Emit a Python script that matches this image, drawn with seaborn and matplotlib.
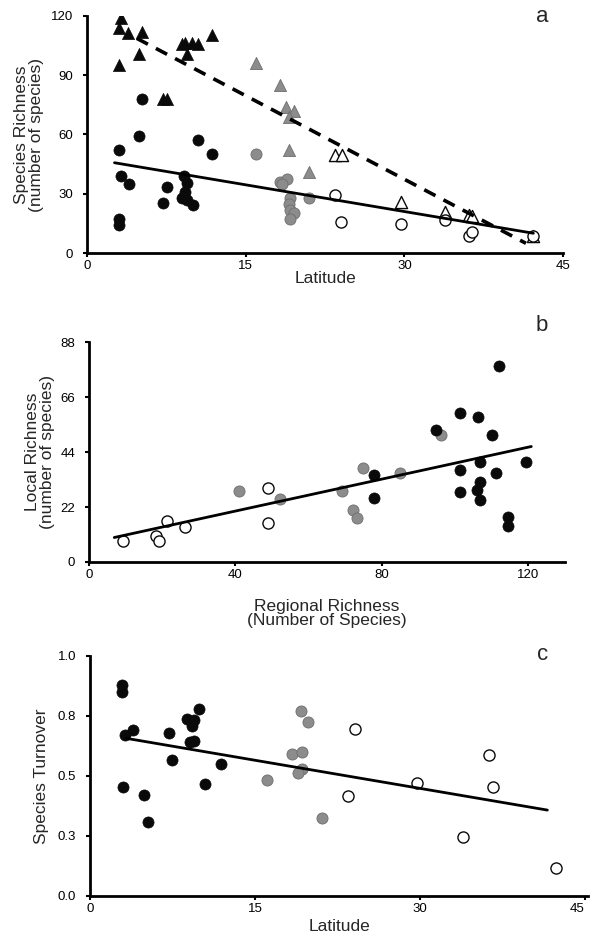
import numpy as np
import pandas as pd
import matplotlib
matplotlib.use("Agg")
import matplotlib.pyplot as plt
import seaborn as sns

sns.set_style("ticks")
plt.rcParams['font.family'] = ['Liberation Sans', 'DejaVu Sans']

# ---------------- Panel a data ----------------
a_tri_black_x = [3.2, 3.0, 3.9, 5.2, 4.9, 3.0, 7.2, 7.6, 9.0, 9.3, 9.9, 10.5, 9.5, 11.8]
a_tri_black_y = [119, 114, 111.5, 112, 101, 95, 78, 78, 106, 106.5, 106.5, 106, 101, 110.5]
a_tri_gray_x = [16.0, 18.2, 18.8, 19.6, 19.1, 19.1, 21.0]
a_tri_gray_y = [96, 85, 74, 72, 69, 52, 41]
a_tri_open_x = [23.4, 24.1, 29.7, 33.8, 36.1, 36.4, 42.2]
a_tri_open_y = [49.5, 49.5, 26, 21, 19, 18.5, 8.5]
a_cir_black_x = [5.2, 4.9, 3.0, 10.5, 11.8, 3.2, 4.0, 7.6, 7.2, 9.2, 9.5, 9.3, 9.0, 9.5, 10.0, 3.0, 3.0]
a_cir_black_y = [78, 59, 52, 57, 50, 39, 35, 33.5, 25.5, 39, 35.5, 31, 28, 27, 24.5, 17, 14]
a_cir_gray_x = [16.0, 18.2, 18.9, 18.4, 19.2, 19.1, 19.2, 19.6, 19.2, 21.0]
a_cir_gray_y = [50, 36, 37.5, 35, 28, 25, 22, 20, 17, 28]
a_cir_open_x = [23.4, 24.0, 29.7, 33.8, 36.1, 36.4, 42.2]
a_cir_open_y = [29.5, 15.5, 14.5, 16.5, 8.5, 10.5, 8.5]
a_fit_solid_x = [2.6, 42.2]
a_fit_solid_y = [45.7, 10.0]
a_fit_dash_x = [4.7, 41.5]
a_fit_dash_y = [108.7, 4.9]

# ---------------- Panel b data ----------------
b_open_x = [9.2, 18.3, 19.1, 21.2, 26.2, 49, 49]
b_open_y = [8.6, 10.5, 8.6, 16.5, 14.2, 29.6, 15.6]
b_gray_x = [41.1, 52.2, 74.8, 69, 85, 72, 73.1, 96.1]
b_gray_y = [28.5, 25.3, 37.6, 28.6, 35.8, 20.9, 17.6, 50.9]
b_black_x = [112, 101.2, 106.2, 94.8, 110, 106.9, 119.4, 101.2, 111.2, 77.9,
             106.9, 106.1, 101.2, 106.9, 77.9, 114.3, 114.3]
b_black_y = [78.6, 59.8, 58, 52.9, 50.9, 40, 40, 36.9, 35.8, 34.9,
             32, 28.9, 28, 24.9, 25.6, 18, 14.5]
b_fit_x = [6.9, 120.8]
b_fit_y = [9.8, 46.2]

# ---------------- Panel c data ----------------
c_black_x = [2.9, 2.9, 3.2, 3.9, 3.0, 4.9, 5.3, 7.2, 7.5, 8.8, 9.45, 9.3, 9.1, 9.45, 9.9, 10.45, 11.9]
c_black_y = [0.88, 0.85, 0.67, 0.69, 0.455, 0.42, 0.31, 0.68, 0.567, 0.738, 0.733, 0.71,
             0.64, 0.646, 0.78, 0.467, 0.55]
c_gray_x = [16.1, 19.15, 19.8, 18.4, 19.3, 19.3, 18.9, 21.1]
c_gray_y = [0.483, 0.771, 0.726, 0.592, 0.599, 0.528, 0.514, 0.324]
c_open_x = [24.1, 23.5, 29.75, 36.3, 36.7, 33.9, 42.4]
c_open_y = [0.696, 0.417, 0.47, 0.586, 0.455, 0.247, 0.118]
c_fit_x = [3.3, 41.6]
c_fit_y = [0.657, 0.358]

a_xticks = [0, 15, 30, 45]
a_yticks = [0, 30, 60, 90, 120]
b_xticks = [0, 40, 80, 120]
b_yticks = [0, 22, 44, 66, 88]
c_xticks = [0, 15, 30, 45]
c_yticks = [0, 0.25, 0.5, 0.75, 1.0]
c_yticklabels = ['0.0', '0.3', '0.5', '0.8', '1.0']

W, H = 590, 939
fig = plt.figure(figsize=(W / 100, H / 100), dpi=100)

def ax_rect(x0, x1, ytop, ybot):
    return [x0 / W, 1 - ybot / H, (x1 - x0) / W, (ybot - ytop) / H]

axa = fig.add_axes(ax_rect(87, 563, 16, 253))
axb = fig.add_axes(ax_rect(89, 565, 342, 562))
axc = fig.add_axes(ax_rect(90, 588, 656, 896))

BLACK = '#0a0a0a'
GRAY = '#8c8c8c'
GRAY_EDGE = '#6e6e6e'
MS = 64
MS_TRI = 76

def pts(ax, x, y, kind, marker):
    s = MS_TRI if marker == '^' else MS
    if kind == 'black':
        sns.scatterplot(x=x, y=y, ax=ax, marker=marker, color=BLACK, edgecolor=BLACK,
                        linewidth=0.5, s=s, zorder=3)
    elif kind == 'gray':
        sns.scatterplot(x=x, y=y, ax=ax, marker=marker, color=GRAY, edgecolor=GRAY_EDGE,
                        linewidth=0.6, s=s, zorder=3)
    else:
        sns.scatterplot(x=x, y=y, ax=ax, marker=marker, color='white', edgecolor=BLACK,
                        linewidth=1.0, s=s, zorder=3)

# Panel a
pts(axa, a_tri_black_x, a_tri_black_y, 'black', '^')
pts(axa, a_tri_gray_x, a_tri_gray_y, 'gray', '^')
pts(axa, a_tri_open_x, a_tri_open_y, 'open', '^')
pts(axa, a_cir_black_x, a_cir_black_y, 'black', 'o')
pts(axa, a_cir_gray_x, a_cir_gray_y, 'gray', 'o')
pts(axa, a_cir_open_x, a_cir_open_y, 'open', 'o')
sns.lineplot(x=a_fit_solid_x, y=a_fit_solid_y, ax=axa, color='black', linewidth=2.0, zorder=4)
sns.lineplot(x=a_fit_dash_x, y=a_fit_dash_y, ax=axa, color='black', linewidth=2.6,
             linestyle=(0, (3.5, 2.5)), zorder=4)

# Panel b
pts(axb, b_open_x, b_open_y, 'open', 'o')
pts(axb, b_gray_x, b_gray_y, 'gray', 'o')
pts(axb, b_black_x, b_black_y, 'black', 'o')
sns.lineplot(x=b_fit_x, y=b_fit_y, ax=axb, color='black', linewidth=2.0, zorder=4)

# Panel c
pts(axc, c_black_x, c_black_y, 'black', 'o')
pts(axc, c_gray_x, c_gray_y, 'gray', 'o')
pts(axc, c_open_x, c_open_y, 'open', 'o')
sns.lineplot(x=c_fit_x, y=c_fit_y, ax=axc, color='black', linewidth=2.0, zorder=4)

TICK_FS = 9.5
LAB_FS = 12.5

axa.set_xlim(0, 45); axa.set_ylim(0, 120)
axa.set_xticks(a_xticks); axa.set_yticks(a_yticks)
axa.set_xlabel('Latitude', fontsize=LAB_FS, labelpad=-1)
axa.set_ylabel('Species Richness\n(number of species)', fontsize=LAB_FS, labelpad=5, linespacing=1.0)

axb.set_xlim(0, 130); axb.set_ylim(0, 88)
axb.set_xticks(b_xticks); axb.set_yticks(b_yticks)
axb.set_xlabel('Regional Richness\n(Number of Species)', fontsize=LAB_FS, labelpad=13, linespacing=0.95)
axb.set_ylabel('Local Richness\n(number of species)', fontsize=LAB_FS, labelpad=4, linespacing=1.0)

axc.set_xlim(0, 45.3); axc.set_ylim(0, 1.0)
axc.set_xticks(c_xticks); axc.set_yticks(c_yticks)
axc.set_yticklabels(c_yticklabels)
axc.set_xlabel('Latitude', fontsize=LAB_FS, labelpad=3)
axc.set_ylabel('Species Turnover', fontsize=LAB_FS, labelpad=6)

for ax in (axa, axb, axc):
    sns.despine(ax=ax)
    for sp in ['left', 'bottom']:
        ax.spines[sp].set_linewidth(2.0)
        ax.spines[sp].set_color('black')
    ax.tick_params(axis='both', direction='out', length=3, width=1.5, labelsize=TICK_FS,
                   colors='black')
    ax.tick_params(axis='x', pad=2)
    ax.tick_params(axis='y', pad=7)

# keep the last x tick label of panel c inside the figure edge
axc.get_xticklabels()[-1].set_horizontalalignment('right')

fig.text(542 / W, 1 - 16 / H, 'a', fontsize=16, ha='center', va='center')
fig.text(542 / W, 1 - 326 / H, 'b', fontsize=16, ha='center', va='center')
fig.text(543 / W, 1 - 654 / H, 'c', fontsize=16, ha='center', va='center')

fig.savefig('out.png', dpi=100)
